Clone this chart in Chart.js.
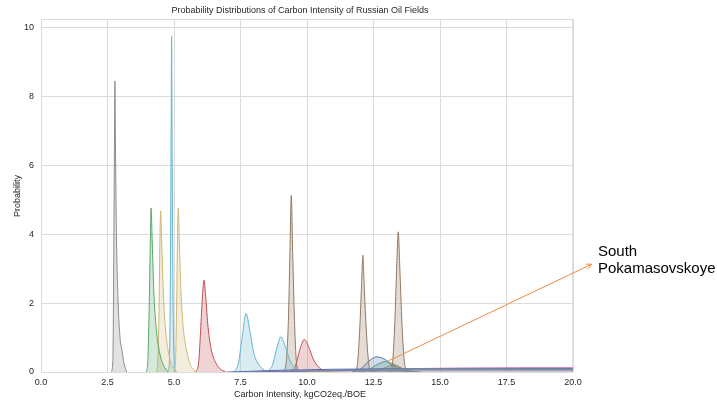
<!DOCTYPE html>
<html>
<head>
<meta charset="utf-8">
<script src="https://cdn.jsdelivr.net/npm/chart.js@4"></script>
<style>
  html, body { margin: 0; padding: 0; background: #fff; }
  #wrap { width: 717px; height: 405px; }
</style>
</head>
<body>
<div id="wrap"><canvas id="chart-ci"></canvas></div>
<script>
(function () {
    // tick labels
    const xTicks = [0, 2.5, 5, 7.5, 10, 12.5, 15, 17.5, 20];
    const yTicks = [0, 2, 4, 6, 8, 10];

    // density curves (x = kgCO2eq./BOE, y = probability density)
    const grayX = [2.64, 2.70, 2.73, 2.76, 2.78, 2.80, 2.84, 2.90, 2.97, 3.04, 3.12, 3.22];
    const grayY = [0, 0.3, 2.5, 6.5, 8.45, 6.5, 3.8, 2.0, 1.0, 0.65, 0.25, 0];
    const greenX = [3.96, 4.02, 4.07, 4.11, 4.14, 4.18, 4.25, 4.34, 4.45, 4.60, 4.78];
    const greenY = [0, 0.4, 2.0, 3.8, 4.76, 3.8, 2.2, 1.2, 0.6, 0.2, 0];
    const olive1X = [4.34, 4.40, 4.44, 4.47, 4.50, 4.54, 4.61, 4.70, 4.81, 4.95, 5.12];
    const olive1Y = [0, 0.4, 2.0, 3.8, 4.68, 3.7, 2.1, 1.1, 0.5, 0.15, 0];
    const cyan1X = [4.77, 4.83, 4.86, 4.89, 4.91, 4.93, 4.96, 5.00, 5.06];
    const cyan1Y = [0, 0.4, 2.5, 6.5, 9.75, 6.5, 2.5, 0.4, 0];
    const olive2X = [5.00, 5.06, 5.10, 5.13, 5.16, 5.20, 5.27, 5.36, 5.48, 5.62, 5.82];
    const olive2Y = [0, 0.4, 2.0, 3.8, 4.76, 3.8, 2.2, 1.2, 0.6, 0.2, 0];
    const red1X = [5.82, 5.93, 6.00, 6.07, 6.13, 6.19, 6.28, 6.40, 6.55, 6.72, 6.95];
    const red1Y = [0, 0.3, 1.2, 2.2, 2.67, 2.2, 1.3, 0.65, 0.3, 0.1, 0];
    const cyan2X = [7.25, 7.42, 7.56, 7.71, 7.85, 8.0, 8.2, 8.48];
    const cyan2Y = [0, 0.25, 1.0, 1.70, 1.2, 0.55, 0.2, 0];
    const cyan3X = [8.5, 8.7, 8.85, 9.02, 9.18, 9.35, 9.55, 9.8];
    const cyan3Y = [0, 0.2, 0.65, 1.02, 0.75, 0.35, 0.12, 0];
    const brown1X = [9.12, 9.22, 9.30, 9.36, 9.41, 9.46, 9.53, 9.60, 9.70];
    const brown1Y = [0, 0.3, 1.5, 3.5, 5.13, 3.5, 1.5, 0.3, 0];
    const red2X = [9.35, 9.55, 9.75, 9.90, 10.05, 10.25, 10.5, 10.8];
    const red2Y = [0, 0.15, 0.7, 0.95, 0.75, 0.35, 0.1, 0];
    const brown2X = [11.80, 11.90, 11.98, 12.05, 12.10, 12.15, 12.23, 12.32, 12.42];
    const brown2Y = [0, 0.25, 1.2, 2.5, 3.39, 2.5, 1.2, 0.25, 0];
    const brown3X = [13.12, 13.22, 13.30, 13.37, 13.43, 13.49, 13.57, 13.66, 13.76];
    const brown3Y = [0, 0.3, 1.4, 3.0, 4.07, 3.0, 1.4, 0.3, 0];
    const blueHumpX = [11.7, 12.0, 12.3, 12.62, 12.9, 13.2, 13.5, 13.9];
    const blueHumpY = [0, 0.08, 0.3, 0.44, 0.38, 0.2, 0.07, 0];
    const greenHumpX = [11.9, 12.3, 12.6, 12.95, 13.2, 13.5, 13.9, 14.3];
    const greenHumpY = [0, 0.06, 0.2, 0.30, 0.25, 0.12, 0.03, 0];
    const grayHumpX = [12.4, 12.8, 13.1, 13.3, 13.6, 14.0];
    const grayHumpY = [0, 0.08, 0.18, 0.2, 0.1, 0];
    // broad, low distributions running off the right edge
    const pinkLowX = [8, 10, 12, 14, 16, 18, 20];
    const pinkLowY = [0, 0.03, 0.07, 0.1, 0.12, 0.13, 0.13];
    const greenLowX = [9, 11, 12.5, 14, 16, 18, 20];
    const greenLowY = [0, 0.04, 0.08, 0.1, 0.1, 0.1, 0.1];
    const oliveLowX = [10, 12, 14, 16, 18, 20];
    const oliveLowY = [0, 0.05, 0.09, 0.09, 0.08, 0.08];
    const blueLowX = [7, 9, 11, 13, 15, 17.5, 20];
    const blueLowY = [0, 0.05, 0.08, 0.09, 0.09, 0.09, 0.09];
    const purpleLowX = [7.5, 10, 12, 14, 17, 20];
    const purpleLowY = [0, 0.03, 0.05, 0.06, 0.06, 0.06];

    // annotation: arrow tail (data) -> head (data)
    const arrowFrom = [13.0, 0.3];
    const arrowTo = [20.7, 3.13];
    const annoLines = ['South', 'Pokamasovskoye'];

    const PAL = {
        blue: '#4C72B0', orange: '#EE8A43', green: '#55A868', red: '#C44E52',
        purple: '#8172B3', brown: '#937860', pink: '#DA8BC3', gray: '#8C8C8C',
        olive: '#CCB974', cyan: '#64B5CD'
    };
    const FONT = 'Liberation Sans, Arial, sans-serif';
    const GRID = '#dcdcdc';

    function rgba(hex, a) {
        const n = parseInt(hex.slice(1), 16);
        return `rgba(${(n >> 16) & 255}, ${(n >> 8) & 255}, ${n & 255}, ${a})`;
    }

    function curve(xs, ys, color, alpha) {
        return {
            data: xs.map((x, i) => ({ x: x, y: ys[i] })),
            borderColor: color,
            backgroundColor: rgba(color, alpha || 0.25),
            borderWidth: 1,
            pointRadius: 0,
            fill: 'origin',
            cubicInterpolationMode: 'monotone'
        };
    }

    const datasets = [
        curve(purpleLowX, purpleLowY, PAL.purple, 0.12),
        curve(blueLowX, blueLowY, PAL.blue, 0.12),
        curve(oliveLowX, oliveLowY, PAL.olive, 0.12),
        curve(greenLowX, greenLowY, PAL.green, 0.12),
        curve(pinkLowX, pinkLowY, PAL.pink, 0.12),
        curve(grayX, grayY, PAL.gray),
        curve(greenX, greenY, PAL.green),
        curve(olive1X, olive1Y, PAL.olive),
        curve(cyan1X, cyan1Y, PAL.cyan),
        curve(olive2X, olive2Y, PAL.olive),
        curve(red1X, red1Y, PAL.red),
        curve(cyan2X, cyan2Y, PAL.cyan),
        curve(cyan3X, cyan3Y, PAL.cyan),
        curve(brown1X, brown1Y, PAL.brown),
        curve(red2X, red2Y, PAL.red),
        curve(brown2X, brown2Y, PAL.brown),
        curve(brown3X, brown3Y, PAL.brown),
        curve(grayHumpX, grayHumpY, PAL.gray),
        curve(blueHumpX, blueHumpY, PAL.blue),
        curve(greenHumpX, greenHumpY, PAL.green)
    ];

    const decor = {
        id: 'decor',
        beforeDatasetsDraw(chart) {
            const { ctx, chartArea: a } = chart;
            ctx.save();
            ctx.strokeStyle = GRID;
            ctx.lineWidth = 1;
            ctx.strokeRect(a.left + 0.5, a.top + 0.5, a.right - a.left - 1, a.bottom - a.top);
            ctx.restore();
        },
        afterDraw(chart) {
            const { ctx, scales: { x, y } } = chart;
            ctx.save();
            // titles
            ctx.fillStyle = '#262626';
            ctx.textAlign = 'center';
            ctx.textBaseline = 'middle';
            ctx.font = '9px ' + FONT;
            ctx.fillText('Probability Distributions of Carbon Intensity of Russian Oil Fields', 300, 11);
            ctx.fillText('Carbon Intensity, kgCO2eq./BOE', 300, 395);
            ctx.translate(18, 196);
            ctx.rotate(-Math.PI / 2);
            ctx.fillText('Probability', 0, 0);
            ctx.setTransform(1, 0, 0, 1, 0, 0);

            // arrow
            const x0 = x.getPixelForValue(arrowFrom[0]), y0 = y.getPixelForValue(arrowFrom[1]);
            const x1 = x.getPixelForValue(arrowTo[0]), y1 = y.getPixelForValue(arrowTo[1]);
            ctx.strokeStyle = PAL.orange;
            ctx.lineWidth = 1;
            ctx.beginPath();
            ctx.moveTo(x0, y0);
            ctx.lineTo(x1, y1);
            const ang = Math.atan2(y1 - y0, x1 - x0);
            const h = 6;
            ctx.moveTo(x1 - h * Math.cos(ang - 0.45), y1 - h * Math.sin(ang - 0.45));
            ctx.lineTo(x1, y1);
            ctx.lineTo(x1 - h * Math.cos(ang + 0.45), y1 - h * Math.sin(ang + 0.45));
            ctx.stroke();

            // label
            ctx.fillStyle = '#000';
            ctx.textAlign = 'left';
            ctx.textBaseline = 'alphabetic';
            ctx.font = '15px ' + FONT;
            annoLines.forEach((t, i) => ctx.fillText(t, 598, 256 + i * 17));
            ctx.restore();
        }
    };

    new Chart(document.getElementById('chart-ci'), {
        type: 'line',
        data: { datasets: datasets },
        options: {
            responsive: true,
            maintainAspectRatio: false,
            animation: false,
            layout: { padding: { top: 19, right: 144, left: 0, bottom: 0 } },
            plugins: { legend: { display: false }, tooltip: { enabled: false } },
            scales: {
                x: {
                    type: 'linear',
                    min: 0,
                    max: 20,
                    afterFit: s => { s.height = 33; },
                    afterBuildTicks: s => { s.ticks = xTicks.map(v => ({ value: v })); },
                    grid: { color: GRID, drawTicks: false },
                    border: { display: false },
                    ticks: {
                        color: '#262626',
                        padding: 5,
                        maxRotation: 0,
                        font: { family: FONT, size: 9 },
                        callback: v => v.toFixed(1)
                    }
                },
                y: {
                    type: 'linear',
                    min: 0,
                    max: 10.25,
                    afterFit: s => { s.width = 41; },
                    afterBuildTicks: s => { s.ticks = yTicks.map(v => ({ value: v })); },
                    grid: { color: GRID, drawTicks: false },
                    border: { display: false },
                    ticks: {
                        color: '#262626',
                        padding: 7,
                        font: { family: FONT, size: 9 },
                        callback: v => String(v)
                    }
                }
            }
        },
        plugins: [decor]
    });
})();
</script>
</body>
</html>
